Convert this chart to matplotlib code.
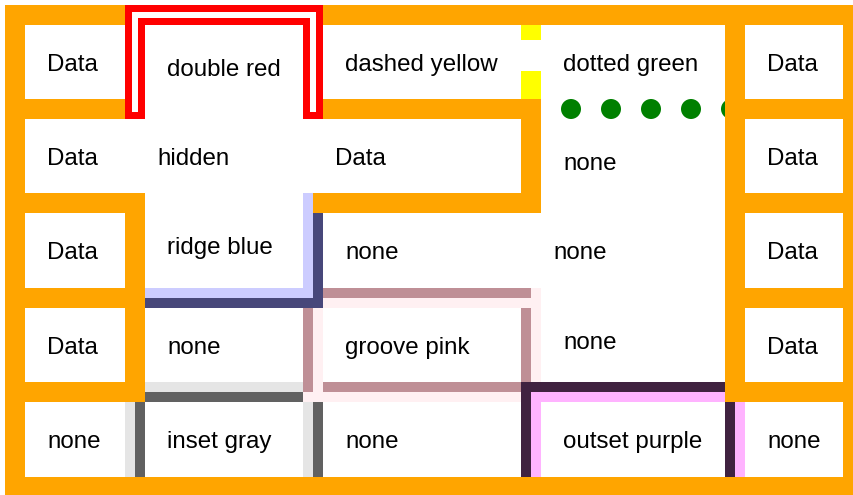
import matplotlib
matplotlib.use("Agg")
import matplotlib.pyplot as plt
from matplotlib.patches import Rectangle, Circle
import numpy as np

# cell labels row by row; a label also names the border of that cell
cell_text = [
    ["Data", "double red", "dashed yellow", "dotted green", "Data"],
    ["Data", "hidden", "Data", "none", "Data"],
    ["Data", "ridge blue", "none", "none", "Data"],
    ["Data", "none", "groove pink", "none", "Data"],
    ["none", "inset gray", "none", "outset purple", "none"],
]
table_border = ("solid", "orange")

# layout: border centre lines in pixels
col_lines = [15, 135, 313, 531, 735, 853]
row_lines = [15, 109, 203, 298, 392, 487]
bw = 20          # border width
pad = 22.5       # cell padding
fs_px = 24.1     # font size in px

colors = {"orange": "#ffa500", "red": "#ff0000", "yellow": "#ffff00",
          "green": "#008000"}
# (light, dark) for 3d styles
shades = {"blue": ("#ccccff", "#47477a"), "pink": ("#fff0f2", "#bf8f96"),
          "gray": ("#e5e5e5", "#616161"), "purple": ("#ffb3ff", "#402240")}

# lowest to highest precedence (collapsing border model)
rank = ["inset", "groove", "outset", "ridge", "dotted", "dashed", "solid", "double"]


def cell_style(label):
    if label == "Data":
        return ("solid", "orange")
    if label in ("none", "hidden"):
        return (label, None)
    return tuple(label.split())


def resolve(a, b):
    cands = [a, b]
    if any(c[0] == "hidden" for c in cands):
        return None
    cands = [c for c in cands if c[0] != "none"]
    if not cands:
        return None
    return max(cands, key=lambda c: rank.index(c[0]))


nr, nc = len(cell_text), len(cell_text[0])
styles = [[cell_style(t) for t in row] for row in cell_text]

h_edges = {}
for i in range(nr + 1):
    for c in range(nc):
        above = styles[i - 1][c] + ("bottom",) if i > 0 else table_border + ("top",)
        below = styles[i][c] + ("top",) if i < nr else table_border + ("bottom",)
        h_edges[(i, c)] = resolve(below, above) if i == 0 else resolve(above, below)

v_edges = {}
for r in range(nr):
    for j in range(nc + 1):
        left = styles[r][j - 1] + ("right",) if j > 0 else table_border + ("left",)
        right = styles[r][j] + ("left",) if j < nc else table_border + ("right",)
        v_edges[(r, j)] = resolve(right, left) if j == 0 else resolve(left, right)

fig = plt.figure(figsize=(8.54, 4.95), dpi=100)
ax = fig.add_axes([0, 0, 1, 1])
ax.set_xlim(0, 854)
ax.set_ylim(495, 0)
ax.axis("off")


def strip(orient, line, a0, a1, o0, o1, color):
    if orient == "h":
        ax.add_patch(Rectangle((a0, line + o0), a1 - a0, o1 - o0, color=color, lw=0))
    else:
        ax.add_patch(Rectangle((line + o0, a0), o1 - o0, a1 - a0, color=color, lw=0))


def dot(orient, line, a, color):
    xy = (a, line) if orient == "h" else (line, a)
    ax.add_patch(Circle(xy, bw / 2, color=color, lw=0))


jobs = []  # (rank, sub, function)
h = bw / 2


def add_edge(orient, line, a0, a1, edge):
    style, cname, side = edge
    rk = rank.index(style)
    ext = h if orient == "v" else 0
    if style == "solid":
        jobs.append((rk, 0, lambda: strip(orient, line, a0 - ext, a1 + ext, -h, h, colors[cname])))
    elif style == "double":
        g = h - bw / 3
        jobs.append((rk, 0, lambda: strip(orient, line, a0 - ext, a1 + ext, -h, h, colors[cname])))
        jobs.append((rk, 1, lambda: strip(orient, line, a0 - g, a1 + g, -g, g, "white")))
    elif style == "dashed":
        dash, gap = 35, 31
        for s in np.arange(a0 - ext, a1 + ext, dash + gap):
            e = min(s + dash, a1 + ext)
            jobs.append((rk, 0, lambda s=s, e=e: strip(orient, line, s, e, -h, h, colors[cname])))
    elif style == "dotted":
        for a in np.arange(a0, a1 + 1, 2 * bw):
            jobs.append((rk, 0, lambda a=a: dot(orient, line, a, colors[cname])))
    else:
        light, dark = shades[cname]
        groove_like = style in ("groove", "outset")
        first_side = side in ("top", "left")
        outer_dark = groove_like == first_side
        outer = (-h, 0) if first_side else (0, h)
        inner = (0, h) if first_side else (-h, 0)
        oc, ic = (dark, light) if outer_dark else (light, dark)
        jobs.append((rk, 0 if ic == dark else 1,
                     lambda: strip(orient, line, a0 - h, a1 + h, inner[0], inner[1], ic)))
        jobs.append((rk, 2 if oc == dark else 3,
                     lambda: strip(orient, line, a0 - h, a1 + h, outer[0], outer[1], oc)))


for (i, c), e in h_edges.items():
    if e:
        add_edge("h", row_lines[i], col_lines[c], col_lines[c + 1], e)
for (r, j), e in v_edges.items():
    if e:
        add_edge("v", col_lines[j], row_lines[r], row_lines[r + 1], e)

for rk, sub, fn in sorted(jobs, key=lambda t: (t[0], t[1])):
    fn()


def half(e):
    return h if e else 0


for r in range(nr):
    for c in range(nc):
        top = half(h_edges[(r, c)])
        bottom = half(h_edges[(r + 1, c)])
        left = half(v_edges[(r, c)])
        cy = (row_lines[r] + top + row_lines[r + 1] - bottom) / 2
        x = col_lines[c] + left + pad
        ax.text(x, cy + 0.37 * fs_px, cell_text[r][c], fontsize=fs_px * 0.72,
                family="Liberation Sans", color="black", ha="left", va="baseline")

fig.savefig("out.png", dpi=100, facecolor="white")
